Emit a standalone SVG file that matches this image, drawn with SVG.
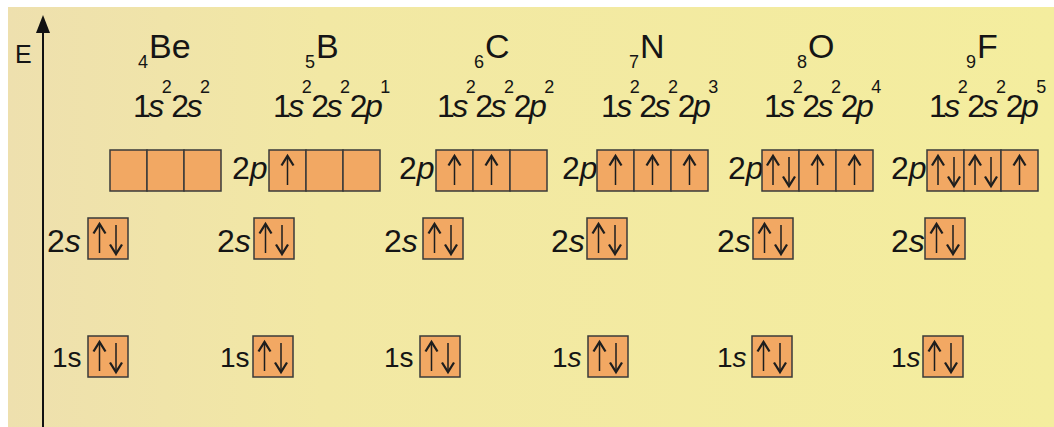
<svg xmlns="http://www.w3.org/2000/svg" width="1054" height="427" viewBox="0 0 1054 427">
<defs>
<linearGradient id="bg" x1="0" y1="0" x2="1" y2="0">
<stop offset="0" stop-color="#eee0ae"/>
<stop offset="0.3" stop-color="#f2e8a4"/>
<stop offset="1" stop-color="#f4ed9e"/>
</linearGradient>
<g id="up"><path d="M0,1 V30" class="sh"/><path d="M-6,10.5 L0,1 L6,10.5" class="hd"/></g>
<g id="dn"><path d="M0,0 V29" class="sh"/><path d="M-6,19.5 L0,29 L6,19.5" class="hd"/></g>
</defs>
<style>
text{font-family:"Liberation Sans",Arial,sans-serif;fill:#151515}
.cfg{font-size:32px;letter-spacing:-2.5px}
.sup{font-size:18px;letter-spacing:-0.5px}
.i{font-style:italic}
.sym{font-size:34px}
.sub{font-size:18px}
.lbl{font-size:32px}
.lbl1{font-size:28px}
.bx{fill:#f2a863;stroke:#3a3a3a;stroke-width:1.5}
.sh{fill:none;stroke:#1e1e1e;stroke-width:1.5}
.hd{fill:none;stroke:#1e1e1e;stroke-width:2.3;stroke-linejoin:miter}
</style>
<rect x="0" y="0" width="1054" height="427" fill="#ffffff"/>
<rect x="8" y="7" width="1046" height="420" fill="url(#bg)"/>

<g id="axis">
<line x1="43" y1="427" x2="43" y2="30" stroke="#111" stroke-width="2"/>
<polygon points="36,33 43,15 50,33" fill="#111"/>
<text x="15" y="63" style="font-size:25px">E</text>
</g>

<g id="be">
<text class="sub" x="138" y="68">4</text><text class="sym" x="149" y="58">Be</text>
<text class="cfg" x="133" y="117">1<tspan class="i">s</tspan><tspan class="sup" dy="-24">2</tspan><tspan dy="24">2</tspan><tspan class="i">s</tspan><tspan class="sup" dy="-24">2</tspan></text>
<rect class="bx" x="110" y="150" width="37" height="41"/><rect class="bx" x="147" y="150" width="37" height="41"/><rect class="bx" x="184" y="150" width="37" height="41"/>
<text class="lbl" x="47" y="252">2<tspan class="i">s</tspan></text>
<rect class="bx" x="88" y="218" width="40" height="41"/><use href="#up" x="99.5" y="223"/><use href="#dn" x="116" y="225"/>
<text class="lbl1" x="52" y="367">1s</text>
<rect class="bx" x="88" y="336" width="40" height="41"/><use href="#up" x="99.5" y="341"/><use href="#dn" x="116" y="343"/>
</g>

<g id="b">
<text class="sub" x="305" y="68">5</text><text class="sym" x="316" y="58">B</text>
<text class="cfg" x="273" y="117">1<tspan class="i">s</tspan><tspan class="sup" dy="-24">2</tspan><tspan dy="24">2</tspan><tspan class="i">s</tspan><tspan class="sup" dy="-24">2</tspan><tspan dy="24">2</tspan><tspan class="i">p</tspan><tspan class="sup" dy="-24">1</tspan></text>
<text class="lbl" x="232" y="179">2<tspan class="i">p</tspan></text>
<rect class="bx" x="269" y="150" width="37" height="41"/><rect class="bx" x="306" y="150" width="37" height="41"/><rect class="bx" x="343" y="150" width="37" height="41"/>
<use href="#up" x="287.5" y="155"/>
<text class="lbl" x="217" y="252">2<tspan class="i">s</tspan></text>
<rect class="bx" x="254" y="218" width="40" height="41"/><use href="#up" x="265.5" y="223"/><use href="#dn" x="282" y="225"/>
<text class="lbl1" x="220" y="367">1s</text>
<rect class="bx" x="253" y="336" width="40" height="41"/><use href="#up" x="264.5" y="341"/><use href="#dn" x="281" y="343"/>
</g>

<g id="c">
<text class="sub" x="474" y="68">6</text><text class="sym" x="485" y="58">C</text>
<text class="cfg" x="437" y="117">1<tspan class="i">s</tspan><tspan class="sup" dy="-24">2</tspan><tspan dy="24">2</tspan><tspan class="i">s</tspan><tspan class="sup" dy="-24">2</tspan><tspan dy="24">2</tspan><tspan class="i">p</tspan><tspan class="sup" dy="-24">2</tspan></text>
<text class="lbl" x="399" y="179">2<tspan class="i">p</tspan></text>
<rect class="bx" x="436" y="150" width="37" height="41"/><rect class="bx" x="473" y="150" width="37" height="41"/><rect class="bx" x="510" y="150" width="37" height="41"/>
<use href="#up" x="454.5" y="155"/><use href="#up" x="491.5" y="155"/>
<text class="lbl" x="384" y="252">2<tspan class="i">s</tspan></text>
<rect class="bx" x="423" y="218" width="40" height="41"/><use href="#up" x="434.5" y="223"/><use href="#dn" x="451" y="225"/>
<text class="lbl1" x="384" y="367">1s</text>
<rect class="bx" x="420" y="336" width="40" height="41"/><use href="#up" x="431.5" y="341"/><use href="#dn" x="448" y="343"/>
</g>

<g id="n">
<text class="sub" x="629" y="68">7</text><text class="sym" x="640" y="58">N</text>
<text class="cfg" x="601" y="117">1<tspan class="i">s</tspan><tspan class="sup" dy="-24">2</tspan><tspan dy="24">2</tspan><tspan class="i">s</tspan><tspan class="sup" dy="-24">2</tspan><tspan dy="24">2</tspan><tspan class="i">p</tspan><tspan class="sup" dy="-24">3</tspan></text>
<text class="lbl" x="562" y="179">2<tspan class="i">p</tspan></text>
<rect class="bx" x="597" y="150" width="37" height="41"/><rect class="bx" x="634" y="150" width="37" height="41"/><rect class="bx" x="671" y="150" width="37" height="41"/>
<use href="#up" x="615.5" y="155"/><use href="#up" x="652.5" y="155"/><use href="#up" x="689.5" y="155"/>
<text class="lbl" x="551" y="252">2<tspan class="i">s</tspan></text>
<rect class="bx" x="587" y="218" width="40" height="41"/><use href="#up" x="598.5" y="223"/><use href="#dn" x="615" y="225"/>
<text class="lbl1" x="552" y="367">1<tspan class="i">s</tspan></text>
<rect class="bx" x="588" y="336" width="40" height="41"/><use href="#up" x="599.5" y="341"/><use href="#dn" x="616" y="343"/>
</g>

<g id="o">
<text class="sub" x="797" y="68">8</text><text class="sym" x="808" y="58">O</text>
<text class="cfg" x="764" y="117">1<tspan class="i">s</tspan><tspan class="sup" dy="-24">2</tspan><tspan dy="24">2</tspan><tspan class="i">s</tspan><tspan class="sup" dy="-24">2</tspan><tspan dy="24">2</tspan><tspan class="i">p</tspan><tspan class="sup" dy="-24">4</tspan></text>
<text class="lbl" x="728" y="179">2<tspan class="i">p</tspan></text>
<rect class="bx" x="762" y="150" width="37" height="41"/><rect class="bx" x="799" y="150" width="37" height="41"/><rect class="bx" x="836" y="150" width="37" height="41"/>
<use href="#up" x="773" y="155"/><use href="#dn" x="789" y="157"/><use href="#up" x="817.5" y="155"/><use href="#up" x="854.5" y="155"/>
<text class="lbl" x="717" y="252">2<tspan class="i">s</tspan></text>
<rect class="bx" x="753" y="218" width="40" height="41"/><use href="#up" x="764.5" y="223"/><use href="#dn" x="781" y="225"/>
<text class="lbl1" x="717" y="367">1<tspan class="i">s</tspan></text>
<rect class="bx" x="752" y="336" width="40" height="41"/><use href="#up" x="763.5" y="341"/><use href="#dn" x="780" y="343"/>
</g>

<g id="f">
<text class="sub" x="966" y="68">9</text><text class="sym" x="977" y="58">F</text>
<text class="cfg" x="929" y="117">1<tspan class="i">s</tspan><tspan class="sup" dy="-24">2</tspan><tspan dy="24">2</tspan><tspan class="i">s</tspan><tspan class="sup" dy="-24">2</tspan><tspan dy="24">2</tspan><tspan class="i">p</tspan><tspan class="sup" dy="-24">5</tspan></text>
<text class="lbl" x="891" y="179">2<tspan class="i">p</tspan></text>
<rect class="bx" x="927" y="150" width="37" height="41"/><rect class="bx" x="964" y="150" width="37" height="41"/><rect class="bx" x="1001" y="150" width="37" height="41"/>
<use href="#up" x="938" y="155"/><use href="#dn" x="954" y="157"/><use href="#up" x="975" y="155"/><use href="#dn" x="991" y="157"/><use href="#up" x="1019.5" y="155"/>
<text class="lbl" x="891" y="252">2<tspan class="i">s</tspan></text>
<rect class="bx" x="925" y="218" width="40" height="41"/><use href="#up" x="936.5" y="223"/><use href="#dn" x="953" y="225"/>
<text class="lbl1" x="891" y="367">1<tspan class="i">s</tspan></text>
<rect class="bx" x="923" y="336" width="40" height="41"/><use href="#up" x="934.5" y="341"/><use href="#dn" x="951" y="343"/>
</g>
</svg>
